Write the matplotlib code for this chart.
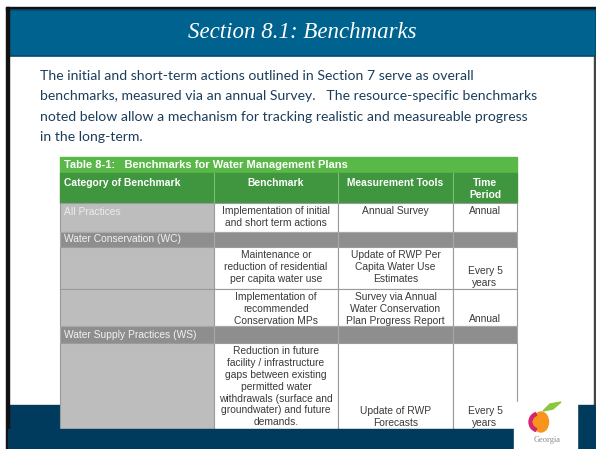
"""
Section 8.1: Benchmarks - slide with Table 8-1
"""
import matplotlib.pyplot as plt
from matplotlib.patches import Rectangle, Ellipse, Wedge, Polygon

titulo = "Section 8.1: Benchmarks"
paragrafo = [
    "The initial and short-term actions outlined in Section 7 serve as overall",
    "benchmarks, measured via an annual Survey.   The resource-specific benchmarks",
    "noted below allow a mechanism for tracking realistic and measureable progress",
    "in the long-term.",
]
tabela_titulo = "Table 8-1:   Benchmarks for Water Management Plans"
cabecalho = ["Category of Benchmark", "Benchmark", "Measurement Tools", "Time\nPeriod"]
categorias = ["All Practices", "Water Conservation (WC)", "", "", "Water Supply Practices (WS)", ""]
benchmarks = [
    "Implementation of initial\nand short term actions",
    "",
    "Maintenance or\nreduction of residential\nper capita water use",
    "Implementation of\nrecommended\nConservation MPs",
    "",
    "Reduction in future\nfacility / infrastructure\ngaps between existing\npermitted water\n"
    "withdrawals (surface and\ngroundwater) and future\ndemands.",
]
ferramentas = [
    "Annual Survey",
    "",
    "Update of RWP Per\nCapita Water Use\nEstimates",
    "Survey via Annual\nWater Conservation\nPlan Progress Report",
    "",
    "Update of RWP\nForecasts",
]
periodos = ["Annual", "", "Every 5\nyears", "Annual", "", "Every 5\nyears"]
tipo_linha = ["item", "grupo", "item", "item", "grupo", "item"]

# layout (pixels)
W, H = 596, 449
col_x = [60, 214, 338, 453, 517]
row_y = [203, 232, 247, 289, 326, 343, 429]
# alinhamento vertical das colunas 2-4 por linha
va_cols = [("top", "top", "top"), None, ("top", "top", "bottom"),
           ("top", "top", "bottom"), None, ("top", "bottom", "bottom")]
fs_tab = 7.4

fig = plt.figure(figsize=(W / 100, H / 100), dpi=100)
ax = fig.add_axes([0, 0, 1, 1])
ax.set_xlim(0, W)
ax.set_ylim(H, 0)
ax.axis("off")

# moldura e cabecalho do slide
ax.add_patch(Rectangle((6, 7), W - 6, 3, color="#111111", zorder=1))
ax.add_patch(Rectangle((6, 7), 2.5, H - 7, color="#111111", zorder=6))
ax.add_patch(Rectangle((594, 56), 2, H - 56, color="#444444", zorder=1))
ax.add_patch(Rectangle((8, 10), W - 8, 46, facecolor="#00628e",
                       edgecolor="#004a6c", linewidth=1.2, zorder=2))
ax.text(302, 33, titulo, color="white", fontsize=16.5, family="Liberation Serif",
        style="italic", ha="center", va="center", zorder=3)

for i, linha in enumerate(paragrafo):
    ax.text(40, 76 + i * 20.3, linha, color="#1c3d5c", fontsize=10.05,
            family="Lato", ha="left", va="center", zorder=3)

# faixa inferior
ax.add_patch(Rectangle((8, 405), W - 8, H - 405, color="#003a5c", zorder=1))

# tabela
x0, x1 = col_x[0], col_x[-1]
ax.add_patch(Rectangle((x0, 157), x1 - x0, 16, color="#59b848", zorder=4))
ax.text(x0 + 4, 165, tabela_titulo, color="white", fontsize=8.0, weight="bold",
        family="Liberation Sans", ha="left", va="center", zorder=5)
ax.add_patch(Rectangle((x0, 173), x1 - x0, 30, color="#3f963f", zorder=4))
for j, txt in enumerate(cabecalho):
    if j == 0:
        ax.text(x0 + 4, 183, txt, color="white", fontsize=fs_tab, weight="bold",
                family="Liberation Sans", ha="left", va="center", zorder=5)
    else:
        ax.text((col_x[j] + col_x[j + 1]) / 2, 178, txt, color="white", fontsize=fs_tab,
                weight="bold", family="Liberation Sans", ha="center", va="top",
                linespacing=1.22, zorder=5)
for j in range(1, 4):
    ax.plot([col_x[j], col_x[j]], [173, 203], color="#7bbf72", lw=0.8, zorder=5)

for i in range(len(categorias)):
    ya, yb = row_y[i], row_y[i + 1]
    if tipo_linha[i] == "grupo":
        ax.add_patch(Rectangle((x0, ya), x1 - x0, yb - ya, facecolor="#8e8e8e",
                               edgecolor="#a8a8a8", lw=0.8, zorder=4))
        ax.text(x0 + 4, (ya + yb) / 2, categorias[i], color="#f2f2f2", fontsize=fs_tab,
                family="Liberation Sans", ha="left", va="center", zorder=5)
        for j in range(1, 4):
            ax.plot([col_x[j], col_x[j]], [ya, yb], color="#a8a8a8", lw=0.8, zorder=5)
        continue
    ax.add_patch(Rectangle((x0, ya), col_x[1] - x0, yb - ya, facecolor="#bdbdbd",
                           edgecolor="#9a9a9a", lw=0.8, zorder=4))
    if categorias[i]:
        ax.text(x0 + 4, ya + 9, categorias[i], color="#ececec", fontsize=fs_tab,
                family="Liberation Sans", ha="left", va="center", zorder=5)
    textos = [benchmarks[i], ferramentas[i], periodos[i]]
    for j in range(3):
        xa, xb = col_x[j + 1], col_x[j + 2]
        ax.add_patch(Rectangle((xa, ya), xb - xa, yb - ya, facecolor="white",
                               edgecolor="#9a9a9a", lw=0.8, zorder=4))
        va = va_cols[i][j]
        ty = ya + 3.5 if va == "top" else yb - 1.5
        ax.text((xa + xb) / 2, ty, textos[j], color="#3a3a3a", fontsize=fs_tab,
                family="Liberation Sans", ha="center", va=va, linespacing=1.22,
                zorder=5)

# faixa inferior por cima da tabela
ax.add_patch(Rectangle((8, 429), W - 8, H - 429, color="#003a5c", zorder=6))

# logo Georgia
ax.add_patch(Rectangle((514, 402), 63, H - 402, color="white", zorder=7))
ax.add_patch(Ellipse((541, 422), 15, 20, color="#f7941d", zorder=8))
ax.add_patch(Wedge((539, 422), 10, 110, 250, width=3, color="#d6246e", zorder=9))
ax.add_patch(Polygon([[543, 411], [550, 404], [561, 402], [553, 409]],
                     closed=True, color="#8cc63f", zorder=8))
ax.text(547, 440, "Georgia", color="#8a8a8a", fontsize=6, family="Liberation Serif",
        ha="center", va="center", zorder=8)

fig.savefig("out.png", dpi=100)
plt.close()
